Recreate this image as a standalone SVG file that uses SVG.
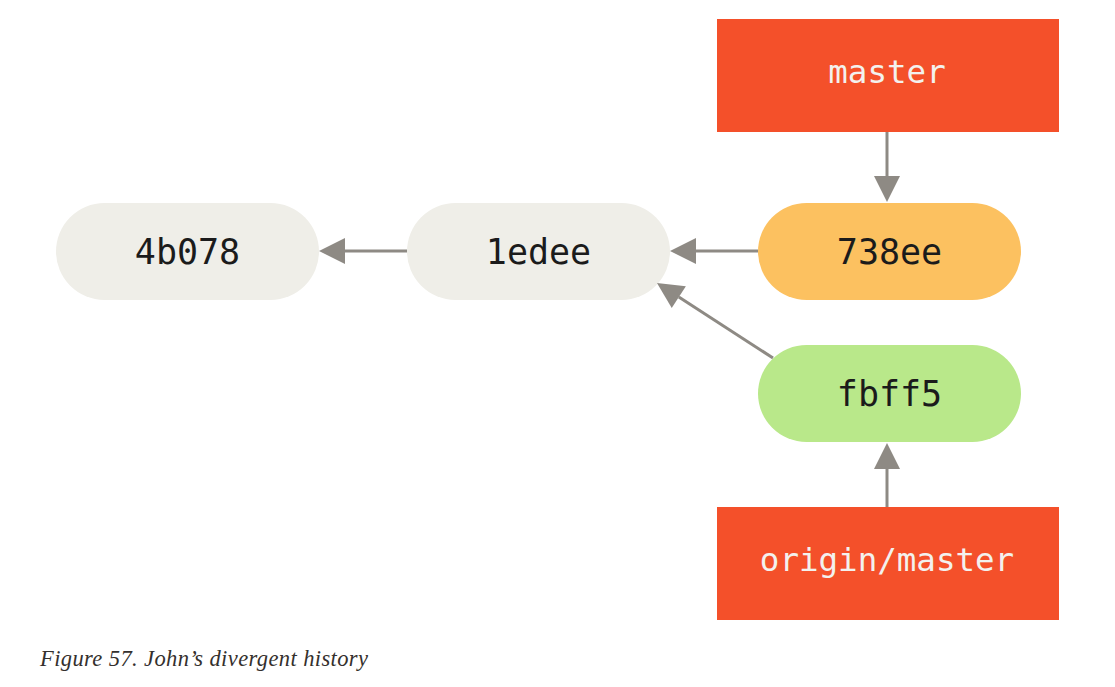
<svg xmlns="http://www.w3.org/2000/svg" width="1115" height="687" viewBox="0 0 1115 687">
<style>
.commit text{font-family:"DejaVu Sans Mono","Liberation Mono",monospace;font-size:35px;fill:#1b1b1b;text-anchor:middle}
.ref text{font-family:"DejaVu Sans Mono","Liberation Mono",monospace;font-size:32.5px;fill:#f3f1ee;text-anchor:middle}
.ref rect{fill:#f4502a}
.conn line{stroke:#8e8a84;stroke-width:3;fill:none}
.caption{font-family:"Liberation Serif","DejaVu Serif",serif;font-style:italic;font-size:22.5px;fill:#34302d}
</style>
<defs>
<marker id="ah" viewBox="0 0 26 26" refX="0" refY="13" markerWidth="26" markerHeight="26" markerUnits="userSpaceOnUse" orient="auto" overflow="visible">
<path d="M0,0 L26,13 L0,26 z" fill="#8e8a84"/>
</marker>
</defs>
<rect width="1115" height="687" fill="#ffffff"/>
<g id="c4b078" class="commit"><rect x="56" y="203" width="263" height="97" rx="48.5" fill="#efeee8"/><text x="187.5" y="264">4b078</text></g>
<g id="c1edee" class="commit"><rect x="407" y="203" width="263" height="97" rx="48.5" fill="#efeee8"/><text x="538.5" y="264">1edee</text></g>
<g id="c738ee" class="commit"><rect x="758" y="203" width="263" height="97" rx="48.5" fill="#fcc160"/><text x="889.5" y="264">738ee</text></g>
<g id="cfbff5" class="commit"><rect x="758" y="345" width="263" height="97" rx="48.5" fill="#b9e88a"/><text x="889.5" y="406">fbff5</text></g>
<g id="master" class="ref"><rect x="717" y="19" width="342" height="113"/><text x="887" y="83">master</text></g>
<g id="origin-master" class="ref"><rect x="717" y="507" width="342" height="113"/><text x="887" y="571">origin/master</text></g>
<g id="connectors" class="conn">
<line x1="407" y1="251" x2="345" y2="251" marker-end="url(#ah)"/>
<line x1="758" y1="251" x2="696" y2="251" marker-end="url(#ah)"/>
<line x1="887" y1="132" x2="887" y2="176" marker-end="url(#ah)"/>
<line x1="887" y1="507" x2="887" y2="469" marker-end="url(#ah)"/>
<line x1="773" y1="358" x2="678.8" y2="297.1" marker-end="url(#ah)"/>
</g>
<text class="caption" x="40" y="666" textLength="328" lengthAdjust="spacing">Figure 57. John’s divergent history</text>
</svg>
